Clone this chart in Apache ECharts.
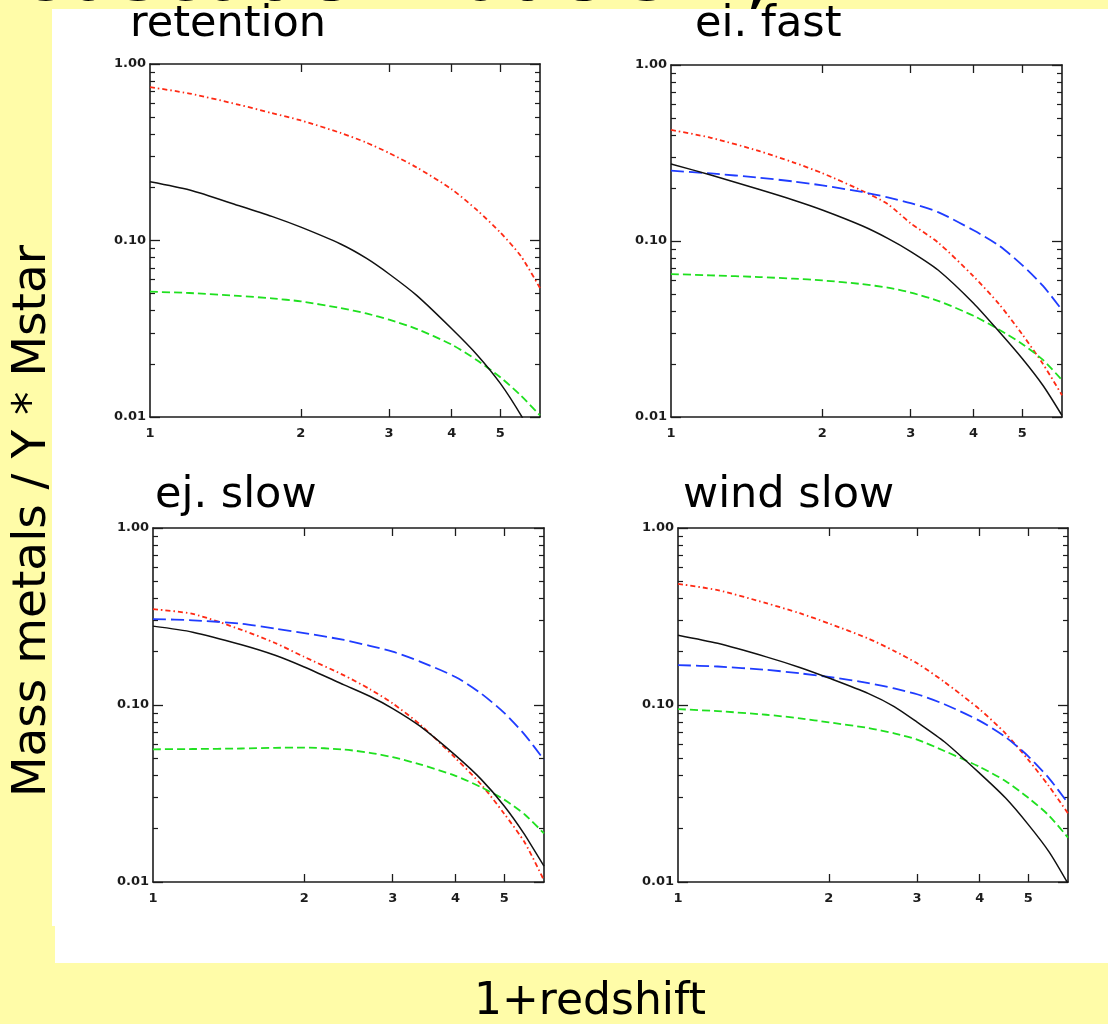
<!DOCTYPE html>
<html>
<head>
<meta charset="utf-8">
<script src="https://cdn.jsdelivr.net/npm/echarts@6/dist/echarts.min.js"></script>
<style>
  html, body { margin: 0; padding: 0; background: #fffca8; }
  #chart { width: 1108px; height: 1024px; }
</style>
</head>
<body>
<div id="chart"></div>
<script>
// 1+z sample points shared by every curve
const onePlusZ = [1, 1.2, 1.5, 1.75, 2, 2.4, 2.7, 3, 3.4, 4, 4.5, 5, 5.5, 6];

// axis ticks and labels
const xTickLabels = [1, 2, 3, 4, 5];
const xTicks = [2, 3, 4, 5];
const yTickLabels = [0.01, 0.1, 1];
const yMinorTicks = [0.02, 0.03, 0.04, 0.05, 0.06, 0.07, 0.08, 0.09,
                     0.2, 0.3, 0.4, 0.5, 0.6, 0.7, 0.8, 0.9];

const panelTitles = ['retention', 'ei. fast', 'ej. slow', 'wind slow'];

// retention
const retentionBlack = [0.215, 0.193, 0.158, 0.137, 0.119, 0.0955, 0.0794, 0.0646, 0.049, 0.0316, 0.0224, 0.0155, 0.0102, 0.00646];
const retentionRed   = [0.74, 0.68, 0.589, 0.527, 0.479, 0.407, 0.359, 0.313, 0.26, 0.195, 0.148, 0.111, 0.0813, 0.0537];
const retentionGreen = [0.0513, 0.0504, 0.0486, 0.047, 0.0452, 0.0414, 0.0386, 0.0356, 0.0316, 0.0257, 0.0209, 0.0168, 0.0132, 0.0102];

// ejection, fast
const ejFastBlack = [0.274, 0.237, 0.196, 0.171, 0.150, 0.122, 0.1035, 0.0871, 0.0684, 0.0443, 0.0305, 0.0215, 0.0151, 0.0102];
const ejFastRed   = [0.428, 0.386, 0.324, 0.280, 0.243, 0.193, 0.162, 0.126, 0.098, 0.063, 0.0437, 0.0295, 0.020, 0.0133];
const ejFastBlue  = [0.251, 0.242, 0.229, 0.218, 0.207, 0.190, 0.177, 0.164, 0.146, 0.115, 0.094, 0.073, 0.0556, 0.0405];
const ejFastGreen = [0.0649, 0.0638, 0.0624, 0.0611, 0.0597, 0.0569, 0.0543, 0.0509, 0.0457, 0.0376, 0.0313, 0.026, 0.0211, 0.0162];

// ejection, slow
const ejSlowBlack = [0.279, 0.258, 0.219, 0.191, 0.164, 0.130, 0.112, 0.0955, 0.0759, 0.0519, 0.038, 0.0269, 0.0184, 0.0123];
const ejSlowRed   = [0.348, 0.327, 0.266, 0.224, 0.187, 0.147, 0.123, 0.102, 0.0776, 0.0501, 0.0355, 0.0243, 0.0166, 0.0102];
const ejSlowBlue  = [0.306, 0.301, 0.288, 0.270, 0.255, 0.233, 0.216, 0.200, 0.176, 0.144, 0.116, 0.0902, 0.0676, 0.049];
const ejSlowGreen = [0.0562, 0.0564, 0.0568, 0.0573, 0.0575, 0.056, 0.0537, 0.0507, 0.0462, 0.0398, 0.0343, 0.0292, 0.024, 0.0188];

// wind, slow
const windSlowBlack = [0.248, 0.223, 0.187, 0.163, 0.142, 0.116, 0.098, 0.080, 0.062, 0.0411, 0.0299, 0.0211, 0.0148, 0.0098];
const windSlowRed   = [0.483, 0.446, 0.376, 0.330, 0.289, 0.237, 0.202, 0.172, 0.135, 0.0944, 0.0692, 0.049, 0.0347, 0.0244];
const windSlowBlue  = [0.168, 0.165, 0.158, 0.151, 0.144, 0.133, 0.124, 0.115, 0.101, 0.0813, 0.066, 0.0513, 0.0385, 0.0279];
const windSlowGreen = [0.0948, 0.0923, 0.0881, 0.0841, 0.0798, 0.0741, 0.0692, 0.0638, 0.055, 0.0447, 0.0372, 0.0299, 0.0237, 0.0178];

const lineStyles = {
  black: { color: '#111111', type: 'solid', width: 1.5 },
  red:   { color: '#ff2a14', type: [5, 3, 1.5, 3], width: 1.8 },
  green: { color: '#1fe01f', type: [8, 4], width: 1.8 },
  blue:  { color: '#1f3cff', type: [13, 5], width: 1.8 }
};

const panels = [
  { grid: { left: 150, top: 64, width: 390, height: 353 },
    curves: [['red', retentionRed], ['green', retentionGreen], ['black', retentionBlack]] },
  { grid: { left: 671, top: 65, width: 391, height: 352 },
    curves: [['red', ejFastRed], ['blue', ejFastBlue], ['green', ejFastGreen], ['black', ejFastBlack]] },
  { grid: { left: 153, top: 528, width: 391, height: 354 },
    curves: [['red', ejSlowRed], ['blue', ejSlowBlue], ['green', ejSlowGreen], ['black', ejSlowBlack]] },
  { grid: { left: 678, top: 528, width: 390, height: 354 },
    curves: [['red', windSlowRed], ['blue', windSlowBlue], ['green', windSlowGreen], ['black', windSlowBlack]] }
];

const titlePos = [[130, 25], [695, 25], [155, 496], [683, 496]];

const frameColor = '#1c1c1c';
const labelFont = { fontFamily: 'DejaVu Sans', fontWeight: 'bold', fontSize: 13, color: '#1c1c1c' };

const grids = [], xAxes = [], yAxes = [], series = [];

panels.forEach((p, i) => {
  grids.push(Object.assign({ containLabel: false }, p.grid));

  const xBase = {
    type: 'log', logBase: 10, min: 1, max: 6, gridIndex: i,
    splitLine: { show: false },
    axisLine: { show: true, onZero: false, lineStyle: { color: frameColor, width: 1.6 } }
  };
  // bottom x axis with labels
  xAxes.push(Object.assign({}, xBase, {
    position: 'bottom',
    axisTick: { show: true, inside: true, length: 8, customValues: xTicks, lineStyle: { color: frameColor, width: 1.3 } },
    axisLabel: Object.assign({ show: true, margin: 10, customValues: xTickLabels,
      formatter: v => String(Math.round(v)) }, labelFont)
  }));
  // top frame edge
  xAxes.push(Object.assign({}, xBase, {
    position: 'top',
    axisTick: { show: true, inside: true, length: 8, customValues: xTicks, lineStyle: { color: frameColor, width: 1.3 } },
    axisLabel: { show: false }
  }));

  const yBase = {
    type: 'log', logBase: 10, min: 0.01, max: 1, gridIndex: i,
    splitLine: { show: false }
  };
  ['left', 'right'].forEach(side => {
    // decade ticks (and labels on the left)
    yAxes.push(Object.assign({}, yBase, {
      position: side,
      axisLine: { show: true, onZero: false, lineStyle: { color: frameColor, width: 1.6 } },
      axisTick: { show: true, inside: true, length: 10, customValues: yTickLabels, lineStyle: { color: frameColor, width: 1.3 } },
      axisLabel: side === 'left'
        ? Object.assign({ show: true, margin: 4, customValues: yTickLabels, formatter: v => v.toFixed(2) }, labelFont)
        : { show: false }
    }));
    // minor ticks
    yAxes.push(Object.assign({}, yBase, {
      position: side,
      axisLine: { show: false },
      axisTick: { show: true, inside: true, length: 5, customValues: yMinorTicks, lineStyle: { color: frameColor, width: 1.2 } },
      axisLabel: { show: false }
    }));
  });

  p.curves.forEach(([key, vals]) => {
    series.push({
      type: 'line',
      xAxisIndex: i * 2,
      yAxisIndex: i * 4,
      showSymbol: false,
      smooth: 0.25,
      clip: true,
      silent: true,
      lineStyle: lineStyles[key],
      data: onePlusZ.map((x, k) => [x, vals[k]])
    });
  });
});

const graphics = [
  // heading running off the top edge
  { type: 'text', z: -3, x: 13, y: -21,
    style: { text: 'Cascade models: I, 2', fontFamily: 'DejaVu Sans', fontSize: 80, fill: '#000',
             textAlign: 'left', textVerticalAlign: 'middle' } },
  // white sheet behind the four plots
  { type: 'rect', z: -2, shape: { x: 52, y: 9, width: 1056, height: 917 }, style: { fill: '#ffffff' } },
  { type: 'rect', z: -2, shape: { x: 55, y: 925, width: 1053, height: 38 }, style: { fill: '#ffffff' } },
  // shared axis titles
  { type: 'text', z: -1, x: 33, y: 521, rotation: Math.PI / 2,
    style: { text: 'Mass metals / Y * Mstar', fontFamily: 'DejaVu Sans', fontSize: 47, fill: '#000',
             textAlign: 'center', textVerticalAlign: 'middle' } },
  { type: 'text', z: -1, x: 590, y: 1003,
    style: { text: '1+redshift', fontFamily: 'DejaVu Sans', fontSize: 44, fill: '#000',
             textAlign: 'center', textVerticalAlign: 'middle' } }
];
panelTitles.forEach((t, i) => {
  graphics.push({ type: 'text', z: -1, x: titlePos[i][0], y: titlePos[i][1],
    style: { text: t, fontFamily: 'DejaVu Sans', fontSize: 43, fill: '#000',
             textAlign: 'left', textVerticalAlign: 'middle' } });
});

const chart = echarts.init(document.getElementById('chart'), null, { renderer: 'canvas' });
chart.setOption({
  backgroundColor: '#fffca8',
  animation: false,
  grid: grids,
  xAxis: xAxes,
  yAxis: yAxes,
  series: series,
  graphic: { elements: graphics }
});
</script>
</body>
</html>
